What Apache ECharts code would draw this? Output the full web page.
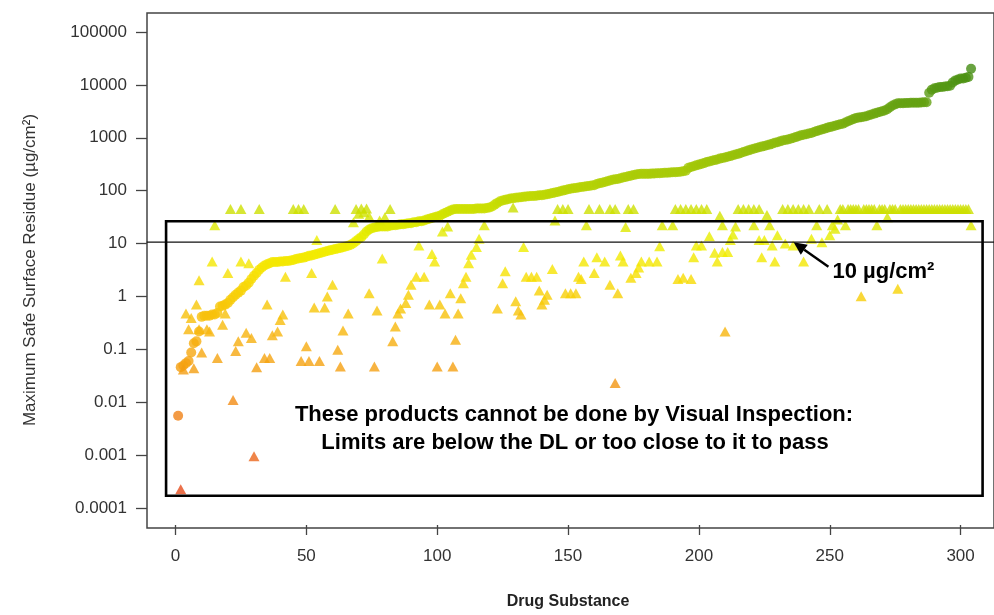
<!DOCTYPE html>
<html>
<head>
<meta charset="utf-8">
<script src="https://cdn.jsdelivr.net/npm/echarts/dist/echarts.min.js"></script>
<style>
  html, body { margin: 0; padding: 0; background: #ffffff; }
  #chart { width: 994px; height: 615px; }
</style>
</head>
<body>
<div id="chart"></div>
<script>
// Maximum safe surface residue per drug substance (sorted), µg/cm²
const circleValues = [
  0.005, 0.042, 0.045, 0.05, 0.055, 0.08, 0.12, 0.13, 0.2, 0.38,
  0.4, 0.4, 0.4, 0.42, 0.42, 0.45, 0.6, 0.62, 0.65, 0.7,
  0.8, 0.9, 1.0, 1.1, 1.2, 1.4, 1.5, 1.7, 2.0, 2.3,
  2.6, 3.0, 3.3, 3.6, 3.8, 4.0, 4.2, 4.2, 4.2, 4.3,
  4.3, 4.4, 4.4, 4.5, 4.6, 4.8, 4.9, 5.0, 5.1, 5.3,
  5.5, 5.6, 5.8, 6.0, 6.2, 6.4, 6.6, 6.8, 7.0, 7.2,
  7.4, 7.6, 7.8, 8.0, 8.3, 8.6, 9.0, 9.6, 10.5, 11.5,
  12.5, 14, 16, 17.5, 18.5, 19, 19.5, 20, 20, 20,
  20, 20.5, 21, 21, 21.5, 22, 22, 22.5, 23, 23,
  24, 24, 25, 25, 26, 27, 28, 29, 30, 31,
  32, 34, 36, 38, 40, 42, 43, 43, 43, 43,
  43, 43, 43, 43, 44, 44, 44, 44, 45, 46,
  48, 52, 56, 60, 62, 64, 66, 68, 69, 70,
  71, 72, 73, 74, 75, 76, 76, 77, 78, 78,
  80, 82, 84, 86, 88, 90, 93, 96, 99, 102,
  104, 106, 108, 110, 112, 114, 116, 118, 120, 122,
  128, 132, 136, 140, 145, 150, 155, 158, 160, 165,
  170, 175, 180, 185, 190, 195, 198, 200, 200, 200,
  200, 202, 204, 205, 206, 208, 210, 210, 212, 214,
  215, 218, 220, 225, 230, 260, 270, 280, 290, 300,
  310, 320, 335, 345, 355, 365, 375, 390, 400, 410,
  425, 435, 450, 465, 480, 500, 520, 540, 560, 580,
  600, 620, 640, 660, 680, 700, 720, 750, 780, 800,
  830, 860, 880, 900, 930, 960, 1000, 1040, 1080, 1110,
  1130, 1170, 1200, 1250, 1300, 1350, 1400, 1450, 1500, 1550,
  1600, 1650, 1700, 1750, 1800, 1900, 2000, 2100, 2200, 2300,
  2350, 2400, 2450, 2500, 2600, 2700, 2800, 2900, 3000, 3100,
  3200, 3400, 3700, 4000, 4200, 4400, 4400, 4400, 4450, 4450,
  4500, 4500, 4500, 4500, 4550, 4600, 4600, 7000, 8000, 8500,
  8700, 9000, 9000, 9200, 9300, 9500, 11000, 12000, 12500, 13000,
  13000, 13500, 14000, 20000
];

// Second limit per drug substance: [drug index, µg/cm²]
const trianglePoints = [
  [2, 0.0002], [3, 0.038], [4, 0.44], [5, 0.22], [6, 0.36], [7, 0.04], [8, 0.65],
  [9, 0.22], [9, 1.9], [10, 0.08], [12, 0.22], [13, 0.2], [14, 4.3], [15, 21],
  [16, 0.063], [18, 0.27], [19, 0.44], [20, 2.6], [21, 43], [22, 0.01], [23, 0.085],
  [24, 0.13], [25, 43], [25, 4.3], [27, 0.19], [28, 4.0], [29, 0.15], [30, 0.00085],
  [31, 0.042], [32, 43], [34, 0.063], [35, 0.65], [36, 0.063], [37, 0.17], [39, 0.2],
  [40, 0.33], [41, 0.42], [42, 2.2], [45, 43], [47, 43], [48, 0.055], [49, 43],
  [50, 0.105], [51, 0.055], [52, 2.6], [53, 0.57], [54, 11], [55, 0.055], [57, 0.57],
  [58, 0.93], [60, 1.55], [61, 43], [62, 0.09], [63, 0.043], [64, 0.21], [66, 0.44],
  [68, 24], [69, 43], [70, 35], [71, 44], [72, 37], [73, 44], [74, 31], [74, 1.07],
  [76, 0.043], [77, 0.5], [78, 26], [79, 4.9], [80, 30], [82, 43], [83, 0.13],
  [84, 0.25], [85, 0.44], [86, 0.55], [88, 0.7], [89, 1.0], [90, 1.55], [92, 2.2],
  [93, 8.7], [95, 2.2], [97, 0.65], [98, 6.0], [99, 4.3], [100, 0.043], [101, 0.65],
  [102, 16], [103, 0.44], [104, 20], [105, 1.07], [106, 0.043], [107, 0.14], [108, 0.44],
  [109, 0.86], [110, 1.65], [111, 2.2], [112, 4.0], [113, 5.8], [115, 8.1], [116, 11.7],
  [118, 21], [123, 0.55], [125, 1.65], [126, 2.8], [129, 46], [130, 0.75], [131, 0.5],
  [132, 0.42], [133, 8.1], [134, 2.2], [136, 2.2], [138, 2.2], [139, 1.2], [140, 0.65],
  [141, 0.8], [142, 1.0], [144, 3.1], [145, 26], [146, 43], [148, 43], [149, 1.07],
  [150, 43], [151, 1.07], [153, 1.07], [154, 2.2], [155, 2.0], [156, 4.3], [157, 21],
  [158, 43], [160, 2.6], [161, 5.2], [162, 43], [164, 4.3], [166, 43], [166, 1.55],
  [168, 43], [168, 0.021], [169, 1.07], [170, 5.6], [171, 4.3], [172, 19.5], [173, 43],
  [174, 2.1], [175, 43], [176, 2.6], [177, 3.3], [178, 4.3], [181, 4.3], [184, 4.3],
  [185, 8.4], [186, 21], [190, 21], [191, 43], [192, 2.0], [193, 43], [194, 2.1],
  [195, 43], [197, 43], [197, 2.0], [198, 5.2], [199, 43], [199, 8.7], [201, 43],
  [201, 8.7], [203, 43], [204, 13], [206, 6.3], [207, 4.3], [208, 32], [209, 21],
  [209, 6.5], [210, 0.2], [211, 6.5], [212, 11], [213, 14], [214, 20], [215, 43],
  [217, 43], [219, 43], [221, 43], [221, 21], [223, 43], [223, 11], [224, 5.2],
  [225, 11], [226, 33], [227, 21], [228, 8.7], [229, 4.3], [230, 13.5], [232, 43],
  [233, 9.5], [234, 43], [236, 43], [236, 8.7], [238, 43], [240, 43], [240, 4.3],
  [242, 43], [243, 11.7], [245, 21], [246, 43], [247, 10], [249, 43], [250, 13.5],
  [251, 21], [252, 18], [253, 27], [254, 43], [255, 43], [256, 21], [257, 43],
  [258, 43], [259, 43], [260, 43], [261, 43], [262, 0.94], [263, 43], [264, 43],
  [265, 43], [266, 43], [267, 43], [268, 21], [269, 43], [270, 43], [271, 43],
  [272, 30], [273, 43], [274, 43], [275, 43], [276, 1.3], [277, 43], [278, 43],
  [279, 43], [280, 43], [281, 43], [282, 43], [283, 43], [284, 43], [285, 43],
  [286, 43], [287, 43], [288, 43], [289, 43], [290, 43], [291, 43], [292, 43],
  [293, 43], [294, 43], [295, 43], [296, 43], [297, 43], [298, 43], [299, 43],
  [300, 43], [301, 43], [302, 43], [303, 43], [304, 21]
];

// Axis settings
const xTickStep = 50;
const xRange = [0, 300];
const yRange = [0.0001, 100000];

// Reference level and the "not by visual inspection" region (data units)
const visualLimit = 10;
const limitLineX = [-11, 316];
const regionX = [-3.6, 308.4];
const regionY = [0.00015, 25];
const arrowFrom = [249.5, 3.4];
const arrowTo = [236.2, 10];

// Colour ramp along log10(value), from -4 to 4.5 in half-decade steps
const rampColors = [
  '#e4421e', '#e8561e', '#ec6a1c', '#ef7c18', '#f28c14', '#f49c12',
  '#f6aa10', '#f7bc0c', '#f8ce06', '#f6e402', '#eef000', '#d4e400',
  '#b8d404', '#a0c608', '#88b80c', '#6ca610', '#529614', '#3a8610'
];

const FONT = 'Liberation Sans, Arial, Helvetica, sans-serif';
const AXIS_GREY = '#444';

const circleData = circleValues.map((v, k) => [k + 1, v, Math.log10(v)]);
const triangleData = trianglePoints.map(p => [p[0], p[1], Math.log10(p[1])]);

const chart = echarts.init(document.getElementById('chart'), null, { renderer: 'canvas' });

const yTickFormatter = v => String(Number(v.toPrecision(6)));

const option = {
  backgroundColor: '#ffffff',
  animation: false,
  grid: [
    // plotting area spanning the tick range
    { left: 175.5, top: 32, width: 785.1, height: 476, show: false },
    // outer frame
    { left: 147, top: 13, width: 856, height: 515, show: true,
      borderColor: AXIS_GREY, borderWidth: 1.5, backgroundColor: 'transparent' },
    // holder for the left value axis, sharing the plotting area's vertical extent
    { left: 147, top: 32, width: 10, height: 476, show: false }
  ],
  xAxis: [
    {
      gridIndex: 0, type: 'value', min: xRange[0], max: xRange[1], interval: xTickStep,
      offset: 20,
      axisLine: { show: false },
      axisTick: { show: true, length: 10, lineStyle: { color: AXIS_GREY, width: 1.3 } },
      axisLabel: { margin: 23, fontSize: 17, color: '#333', fontFamily: FONT },
      splitLine: { show: false },
      name: 'Drug Substance', nameLocation: 'middle', nameGap: 69,
      nameTextStyle: { fontSize: 16, fontWeight: 'bold', color: '#222', fontFamily: FONT }
    },
    { gridIndex: 1, type: 'value', show: false, min: 0, max: 1 },
    { gridIndex: 2, type: 'value', show: false, min: 0, max: 1 }
  ],
  yAxis: [
    { gridIndex: 0, type: 'log', logBase: 10, min: yRange[0], max: yRange[1], show: false },
    { gridIndex: 1, type: 'value', show: false, min: 0, max: 1 },
    {
      gridIndex: 2, type: 'log', logBase: 10, min: yRange[0], max: yRange[1], splitNumber: 9,
      position: 'left',
      axisLine: { show: false },
      axisTick: { show: true, length: 11, lineStyle: { color: AXIS_GREY, width: 1.3 } },
      axisLabel: { margin: 20, fontSize: 17, color: '#333', fontFamily: FONT,
        formatter: yTickFormatter },
      splitLine: { show: false },
      name: 'Maximum Safe Surface Residue (µg/cm²)', nameLocation: 'middle', nameGap: 108,
      nameTextStyle: { fontSize: 17, color: '#333', fontFamily: FONT }
    }
  ],
  visualMap: {
    type: 'continuous', show: false, dimension: 2, seriesIndex: [0, 1],
    min: -4, max: 4.5, inRange: { color: rampColors }
  },
  series: [
    {
      name: 'Maximum safe surface residue', type: 'scatter', xAxisIndex: 0, yAxisIndex: 0,
      symbol: 'circle', symbolSize: 10, clip: false,
      data: circleData, z: 3
    },
    {
      name: 'Second limit', type: 'scatter', xAxisIndex: 0, yAxisIndex: 0,
      symbol: 'triangle', symbolSize: [11, 10], clip: false,
      data: triangleData, z: 4
    }
  ]
};

chart.setOption(option);

// Reference line, region box and arrow, placed through the plotting grid's scales
const toPx = p => chart.convertToPixel({ gridIndex: 0 }, p);
const lineA = toPx([limitLineX[0], visualLimit]);
const lineB = toPx([limitLineX[1], visualLimit]);
const boxTL = toPx([regionX[0], regionY[1]]);
const boxBR = toPx([regionX[1], regionY[0]]);
const arrFrom = toPx(arrowFrom);
const arrTip = toPx(arrowTo);

// arrow head geometry
const dx = arrTip[0] - arrFrom[0], dy = arrTip[1] - arrFrom[1];
const len = Math.hypot(dx, dy), ux = dx / len, uy = dy / len;
const headLen = 13, headHalf = 6;
const baseX = arrTip[0] - ux * headLen, baseY = arrTip[1] - uy * headLen;
const head = [
  [arrTip[0], arrTip[1]],
  [baseX - uy * headHalf, baseY + ux * headHalf],
  [baseX + uy * headHalf, baseY - ux * headHalf]
];

chart.setOption({
  graphic: [
    { type: 'line', z: 20, silent: true,
      shape: { x1: lineA[0], y1: lineA[1], x2: lineB[0], y2: lineB[1] },
      style: { stroke: '#111', lineWidth: 1.3 } },
    { type: 'rect', z: 21, silent: true,
      shape: { x: boxTL[0], y: boxTL[1], width: boxBR[0] - boxTL[0], height: boxBR[1] - boxTL[1] },
      style: { fill: 'none', stroke: '#000', lineWidth: 2.6 } },
    { type: 'line', z: 22, silent: true,
      shape: { x1: arrFrom[0], y1: arrFrom[1], x2: baseX, y2: baseY },
      style: { stroke: '#000', lineWidth: 2.4 } },
    { type: 'polygon', z: 22, silent: true,
      shape: { points: head }, style: { fill: '#000' } },
    { type: 'text', x: 574, y: 415, z: 23,
      style: { text: 'These products cannot be done by Visual Inspection:',
        font: 'bold 22px ' + FONT, fill: '#000', align: 'center', verticalAlign: 'middle' } },
    { type: 'text', x: 575, y: 443, z: 23,
      style: { text: 'Limits are below the DL or too close to it to pass',
        font: 'bold 22px ' + FONT, fill: '#000', align: 'center', verticalAlign: 'middle' } },
    { type: 'text', x: arrFrom[0] + 4, y: 272, z: 23,
      style: { text: '10 µg/cm²', font: 'bold 22px ' + FONT, fill: '#000',
        align: 'left', verticalAlign: 'middle' } }
  ]
});
</script>
</body>
</html>
